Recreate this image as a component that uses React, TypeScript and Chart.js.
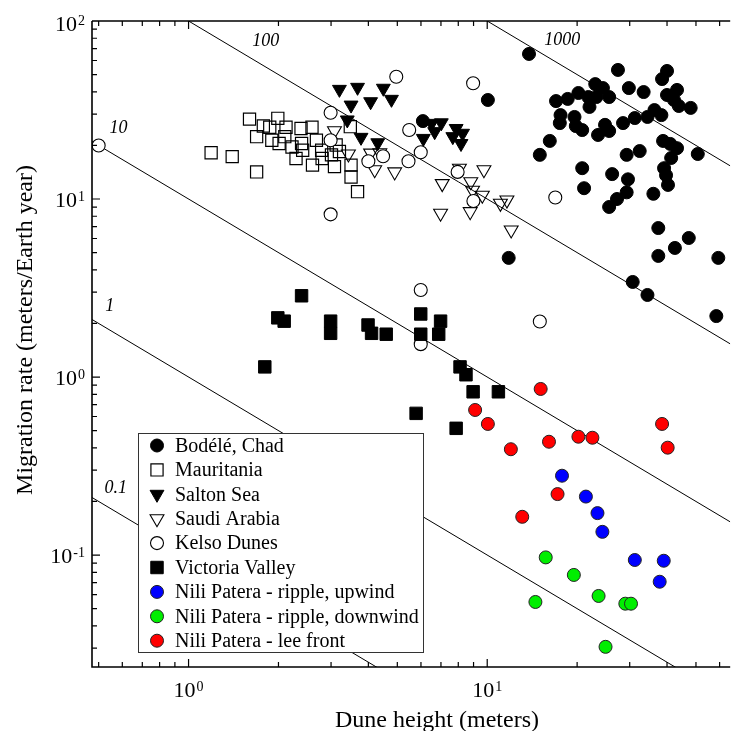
import { useEffect, useRef } from 'react';
import { Chart, registerables } from 'chart.js';
import { drawPoint } from 'chart.js/helpers';

Chart.register(...registerables);

const SERIF = '"Liberation Serif", "Times New Roman", serif';

// Dune height (m) and migration rate (m / Earth year) per site
const bodeleX = [13.8, 10.05, 11.8, 6.09, 27.4, 29.8, 33.4, 38.5, 40.0, 40.0, 42.2, 43.8, 48.0, 43.2, 17.0, 18.6, 20.2, 21.8, 23.0, 24.4, 23.2, 25.6, 17.6, 17.5, 19.6, 19.8, 20.8, 22.0, 23.5, 24.8, 25.6, 28.5, 31.2, 34.4, 36.3, 38.3, 16.2, 15.0, 20.8, 21.1, 26.2, 29.3, 32.4, 29.6, 29.3, 27.2, 25.6, 36.0, 38.8, 41.0, 43.2, 41.3, 50.7, 39.1, 39.7, 40.3, 37.4, 42.5, 47.3, 37.4, 59.4, 30.7, 34.4, 58.5];
const bodeleY = [65.3, 36.0, 4.67, 27.4, 53.1, 42.0, 39.9, 47.2, 52.4, 38.4, 36.0, 33.3, 32.5, 41.0, 35.5, 36.5, 39.4, 37.4, 44.2, 42.0, 37.4, 37.4, 29.6, 26.7, 28.9, 25.7, 24.4, 32.9, 22.9, 26.1, 24.1, 26.7, 28.5, 28.9, 31.6, 29.6, 21.2, 17.7, 14.9, 11.5, 13.8, 17.7, 18.6, 12.9, 10.9, 10.0, 9.02, 10.7, 21.2, 20.4, 19.3, 17.0, 17.9, 14.9, 13.6, 12.0, 6.87, 5.31, 6.04, 4.79, 4.67, 3.42, 2.89, 2.20];

const mauritaniaX = [1.60, 1.69, 1.78, 1.90, 1.87, 1.99, 2.01, 2.10, 2.12, 2.38, 2.39, 2.41, 2.29, 2.59, 2.60, 2.79, 2.80, 3.08, 3.20, 3.48, 3.50, 3.50, 3.68, 1.19, 1.40, 1.69, 3.12, 2.68, 3.01, 2.22];
const mauritaniaY = [28.1, 22.4, 25.7, 21.4, 25.3, 28.4, 20.5, 22.4, 25.3, 24.9, 20.5, 18.8, 16.9, 25.3, 15.5, 18.8, 16.9, 15.2, 18.5, 25.5, 15.5, 13.3, 11.0, 18.2, 17.3, 14.2, 20.1, 21.4, 17.7, 19.6];

const saltonX = [3.20, 3.68, 4.49, 3.50, 4.07, 4.78, 3.40, 3.78, 4.30, 6.51, 7.02, 6.67, 6.11, 7.87, 8.17, 7.67, 8.27];
const saltonY = [41.3, 42.4, 41.9, 33.7, 35.2, 36.3, 27.8, 22.2, 20.7, 26.6, 26.8, 23.9, 21.9, 24.9, 20.5, 22.4, 23.4];

const saudiX = [3.08, 3.43, 4.07, 4.20, 4.90, 4.37, 7.07, 8.07, 9.75, 8.81, 8.93, 9.63, 6.98, 8.77, 11.07, 11.64, 12.03];
const saudiY = [24.2, 17.9, 18.1, 14.6, 14.2, 18.2, 12.2, 14.9, 14.6, 12.5, 11.2, 10.5, 8.32, 8.49, 9.46, 9.87, 6.70];

const kelsoX = [0.5, 4.96, 2.99, 2.99, 5.48, 4.00, 4.48, 5.45, 2.99, 8.97, 5.99, 7.96, 8.99, 16.9, 5.99, 15.0, 5.99];
const kelsoY = [20, 48.6, 30.5, 21.4, 24.4, 16.3, 17.4, 16.3, 8.2, 44.7, 18.3, 14.2, 9.75, 10.2, 3.08, 2.05, 1.53];

const victoriaX = [2.39, 1.99, 2.09, 2.99, 2.99, 3.99, 4.10, 4.59, 5.99, 5.99, 6.98, 6.88, 1.80, 8.11, 8.49, 8.97, 10.9, 5.78, 7.87];
const victoriaY = [2.86, 2.15, 2.06, 2.06, 1.76, 1.96, 1.76, 1.74, 2.26, 1.74, 2.06, 1.74, 1.14, 1.14, 1.03, 0.826, 0.826, 0.625, 0.515];

const upwindX = [17.8, 21.4, 23.4, 24.3, 31.2, 39.0, 37.8];
const upwindY = [0.279, 0.213, 0.172, 0.135, 0.0938, 0.0929, 0.0708];

const downwindX = [15.7, 19.5, 14.5, 23.6, 29.0, 30.3, 24.9];
const downwindY = [0.0970, 0.0773, 0.0545, 0.0589, 0.0533, 0.0533, 0.0305];

const leeX = [15.1, 9.11, 10.05, 12.0, 16.1, 20.2, 22.5, 38.5, 40.2, 17.2, 13.1];
const leeY = [0.857, 0.653, 0.545, 0.393, 0.433, 0.462, 0.456, 0.545, 0.401, 0.220, 0.164];

// Lines of constant sand flux (height x rate) and where their labels sit
const fluxLevels = [0.1, 1, 10, 100, 1000];
const fluxLabels = ['0.1', '1', '10', '100', '1000'];
const fluxLabelX = [0.570, 0.545, 0.583, 1.815, 17.83];
const fluxLabelY = [0.2366, 2.49, 24.9, 76.7, 78.2];

// Axis ranges and labelled decades
const X_MIN = 0.475;
const X_MAX = 65.1;
const Y_MIN = 0.0235;
const Y_MAX = 100;
const xDecades = [1, 10];
const yDecades = [0.1, 1, 10, 100];

const legendLabels = [
  'Bodélé, Chad',
  'Mauritania',
  'Salton Sea',
  'Saudi Arabia',
  'Kelso Dunes',
  'Victoria Valley',
  'Nili Patera - ripple, upwind',
  'Nili Patera - ripple, downwind',
  'Nili Patera - lee front',
];

const zip = (xs: number[], ys: number[]) => xs.map((x, i) => ({ x, y: ys[i] }));

type Marker = {
  pointStyle: string;
  radius: number;
  rotation: number;
  fill: string;
  stroke: string;
  borderWidth: number;
};

const markers: Marker[] = [
  { pointStyle: 'circle', radius: 6.5, rotation: 0, fill: '#000000', stroke: '#000000', borderWidth: 1 },
  { pointStyle: 'rect', radius: 8.6, rotation: 0, fill: 'rgba(0,0,0,0)', stroke: '#000000', borderWidth: 1.2 },
  { pointStyle: 'triangle', radius: 8, rotation: 180, fill: '#000000', stroke: '#000000', borderWidth: 1 },
  { pointStyle: 'triangle', radius: 8, rotation: 180, fill: 'rgba(0,0,0,0)', stroke: '#000000', borderWidth: 1.1 },
  { pointStyle: 'circle', radius: 6.5, rotation: 0, fill: '#ffffff', stroke: '#000000', borderWidth: 1.1 },
  { pointStyle: 'rect', radius: 8.8, rotation: 0, fill: '#000000', stroke: '#000000', borderWidth: 1 },
  { pointStyle: 'circle', radius: 6.5, rotation: 0, fill: '#0000ff', stroke: '#222222', borderWidth: 1 },
  { pointStyle: 'circle', radius: 6.5, rotation: 0, fill: '#00ee00', stroke: '#222222', borderWidth: 1 },
  { pointStyle: 'circle', radius: 6.5, rotation: 0, fill: '#ff0000', stroke: '#222222', borderWidth: 1 },
];

const seriesXs = [bodeleX, mauritaniaX, saltonX, saudiX, kelsoX, victoriaX, upwindX, downwindX, leeX];
const seriesYs = [bodeleY, mauritaniaY, saltonY, saudiY, kelsoY, victoriaY, upwindY, downwindY, leeY];

function drawPower(ctx: CanvasRenderingContext2D, exp: string, x: number, baseline: number, align: 'center' | 'right') {
  ctx.font = `22px ${SERIF}`;
  const wBase = ctx.measureText('10').width;
  ctx.font = `14px ${SERIF}`;
  const wExp = ctx.measureText(exp).width;
  const total = wBase + wExp + 1;
  const x0 = align === 'center' ? x - total / 2 : x - total;
  ctx.textAlign = 'left';
  ctx.textBaseline = 'alphabetic';
  ctx.fillStyle = '#000';
  ctx.font = `22px ${SERIF}`;
  ctx.fillText('10', x0, baseline);
  ctx.font = `14px ${SERIF}`;
  ctx.fillText(exp, x0 + wBase + 1, baseline - 6);
}

const decorations = {
  id: 'decorations',
  afterDatasetsDraw(chart: any) {
    const { ctx, scales } = chart;
    const xs = scales.x;
    const ys = scales.y;

    // flux line labels
    ctx.save();
    ctx.fillStyle = '#000';
    ctx.font = `italic 18px ${SERIF}`;
    ctx.textAlign = 'center';
    ctx.textBaseline = 'middle';
    fluxLabels.forEach((t, i) => {
      ctx.fillText(t, xs.getPixelForValue(fluxLabelX[i]), ys.getPixelForValue(fluxLabelY[i]));
    });
    ctx.restore();

    // legend box
    ctx.save();
    const bx = 138;
    const by = 433;
    const bw = 285;
    const bh = 219;
    ctx.fillStyle = '#ffffff';
    ctx.fillRect(bx, by, bw, bh);
    ctx.strokeStyle = '#333333';
    ctx.lineWidth = 1;
    ctx.strokeRect(bx + 0.5, by + 0.5, bw, bh);
    legendLabels.forEach((label, i) => {
      const cy = by + 12.5 + i * 24.4;
      const m = markers[i];
      ctx.fillStyle = m.fill;
      ctx.strokeStyle = m.stroke;
      ctx.lineWidth = m.borderWidth;
      drawPoint(ctx, { pointStyle: m.pointStyle as any, radius: m.radius, rotation: m.rotation, borderWidth: m.borderWidth }, 157, cy);
      ctx.fillStyle = '#000';
      ctx.font = `20px ${SERIF}`;
      ctx.textAlign = 'left';
      ctx.textBaseline = 'middle';
      ctx.fillText(label, 175, cy + 1);
    });
    ctx.restore();
  },
  afterDraw(chart: any) {
    const { ctx, scales, chartArea } = chart;
    const xs = scales.x;
    const ys = scales.y;
    const { left, right, top, bottom } = chartArea;
    ctx.save();
    ctx.strokeStyle = '#000';

    // frame
    ctx.lineWidth = 1.6;
    ctx.beginPath();
    ctx.moveTo(left, top);
    ctx.lineTo(right, top);
    ctx.moveTo(left, top);
    ctx.lineTo(left, bottom);
    ctx.lineTo(right, bottom);
    ctx.stroke();

    // inward log ticks on all visible sides
    ctx.lineWidth = 1.2;
    ctx.beginPath();
    for (const d of [0.1, 1, 10, 100]) {
      for (let k = 1; k <= 9; k++) {
        const v = k * d;
        if (v < X_MIN || v > X_MAX) continue;
        const p = xs.getPixelForValue(v);
        const len = k === 1 ? 8 : 5;
        ctx.moveTo(p, bottom);
        ctx.lineTo(p, bottom - len);
        ctx.moveTo(p, top);
        ctx.lineTo(p, top + len);
      }
    }
    for (const d of [0.01, 0.1, 1, 10]) {
      for (let k = 1; k <= 9; k++) {
        const v = k * d;
        if (v < Y_MIN || v > Y_MAX) continue;
        const p = ys.getPixelForValue(v);
        const len = k === 1 ? 8 : 5;
        ctx.moveTo(left, p);
        ctx.lineTo(left + len, p);
      }
    }
    ctx.stroke();

    // decade labels
    xDecades.forEach((v) => {
      drawPower(ctx, String(Math.round(Math.log10(v))), xs.getPixelForValue(v), 697, 'center');
    });
    yDecades.forEach((v) => {
      const p = ys.getPixelForValue(v);
      drawPower(ctx, String(Math.round(Math.log10(v))), 85, Math.max(p + 8, 31), 'right');
    });

    // axis titles
    ctx.fillStyle = '#000';
    ctx.font = `24px ${SERIF}`;
    ctx.textAlign = 'center';
    ctx.textBaseline = 'alphabetic';
    ctx.fillText('Dune height (meters)', 437, 727);
    ctx.translate(32, 330);
    ctx.rotate(-Math.PI / 2);
    ctx.fillText('Migration rate (meters/Earth year)', 0, 0);
    ctx.restore();
  },
};

export default function App() {
  const canvasRef = useRef<HTMLCanvasElement | null>(null);

  useEffect(() => {
    const canvas = canvasRef.current;
    if (!canvas) return;

    const fluxSets = fluxLevels.map((q) => ({
      type: 'line' as const,
      label: `flux ${q}`,
      data: [
        { x: X_MIN, y: q / X_MIN },
        { x: X_MAX, y: q / X_MAX },
      ],
      borderColor: '#000000',
      borderWidth: 1,
      pointRadius: 0,
      fill: false,
      tension: 0,
      clip: 0,
      order: 50,
    }));

    const pointSets = legendLabels.map((label, i) => {
      const m = markers[i];
      return {
        type: 'scatter' as const,
        label,
        data: zip(seriesXs[i], seriesYs[i]),
        pointStyle: m.pointStyle as any,
        pointRadius: m.radius,
        pointRotation: m.rotation,
        pointBackgroundColor: m.fill,
        pointBorderColor: m.stroke,
        pointBorderWidth: m.borderWidth,
        backgroundColor: m.fill,
        borderColor: m.stroke,
        showLine: false,
        order: 20 - i,
      };
    });

    const chart = new Chart(canvas, {
      type: 'scatter',
      data: { datasets: [...fluxSets, ...pointSets] as any },
      options: {
        responsive: false,
        animation: false,
        events: [],
        layout: { padding: { top: 21, right: 0, left: 0, bottom: 0 } },
        plugins: {
          legend: { display: false },
          tooltip: { enabled: false },
        },
        scales: {
          x: {
            type: 'logarithmic',
            min: X_MIN,
            max: X_MAX,
            grid: { display: false },
            border: { display: false },
            ticks: { display: false },
            afterFit: (s: any) => {
              s.height = 64;
            },
          },
          y: {
            type: 'logarithmic',
            min: Y_MIN,
            max: Y_MAX,
            grid: { display: false },
            border: { display: false },
            ticks: { display: false },
            afterFit: (s: any) => {
              s.width = 92;
            },
          },
        },
      },
      plugins: [decorations],
    });

    return () => chart.destroy();
  }, []);

  return (
    <div style={{ position: 'absolute', left: 0, top: 0, width: 740, height: 731, background: '#fff' }}>
      <canvas ref={canvasRef} width={740} height={731} style={{ display: 'block' }} />
    </div>
  );
}
